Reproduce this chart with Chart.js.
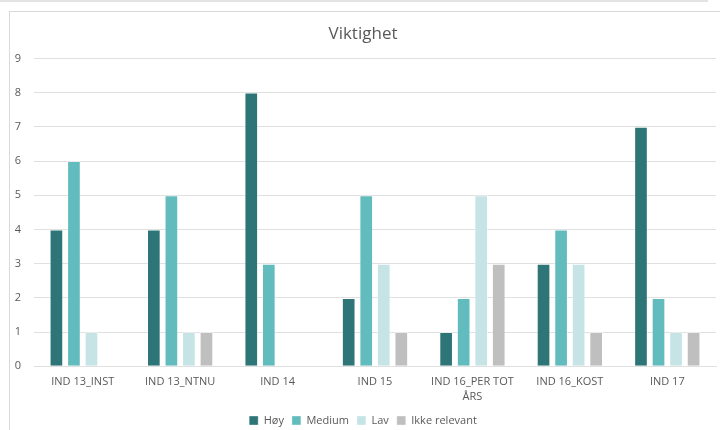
<!DOCTYPE html>
<html>
<head>
<meta charset="utf-8">
<script src="https://cdn.jsdelivr.net/npm/chart.js@4"></script>
<style>
    body { margin: 0; background: #fff; width: 720px; height: 430px; overflow: hidden; position: relative; }
    .topbar { position: absolute; left: 0; top: 0; width: 708px; height: 2px; background: #e3e3e3; }
    .frame { position: absolute; left: 9px; top: 11px; width: 711px; height: 419px; border-left: 1px solid #d9d9d9; border-top: 1px solid #d9d9d9; box-sizing: border-box; }
    .frame canvas { display: block; }
</style>
</head>
<body>
<div class="topbar"></div>
<div class="frame"><canvas id="viktighetChart" width="710" height="418"></canvas></div>
<script>
// Antall indikatorer per viktighetsgrad
const kategorier = ['IND 13_INST', 'IND 13_NTNU', 'IND 14', 'IND 15', ['IND 16_PER TOT', 'ÅRS'], 'IND 16_KOST', 'IND 17'];
const hoy = [4, 4, 8, 2, 1, 3, 7];
const medium = [6, 5, 3, 5, 2, 4, 2];
const lav = [1, 1, 0, 3, 5, 3, 1];
const ikkeRelevant = [0, 1, 0, 1, 3, 1, 1];

const tekstFarge = '#595959';
const gridFarge = '#e0e0e0';

function serie(label, data, farge) {
    return {
        label: label,
        data: data,
        backgroundColor: farge,
        borderColor: 'rgba(255, 255, 255, 0.35)',
        borderWidth: 1,
        barPercentage: 0.78,
        categoryPercentage: 0.72
    };
}

const ctx = document.getElementById('viktighetChart').getContext('2d');
new Chart(ctx, {
    type: 'bar',
    data: {
        labels: kategorier,
        datasets: [
            serie('Høy', hoy, '#2e7577'),
            serie('Medium', medium, '#62bcbd'),
            serie('Lav', lav, '#c6e4e6'),
            serie('Ikke relevant', ikkeRelevant, '#bfbfbf')
        ]
    },
    options: {
        responsive: false,
        animation: false,
        layout: { padding: { left: 0, right: 4, top: 12, bottom: -6 } },
        scales: {
            x: {
                grid: { display: false, drawTicks: false },
                border: { color: gridFarge },
                ticks: {
                    color: tekstFarge,
                    font: { family: 'Open Sans', size: 11, lineHeight: 1.35 },
                    padding: 8,
                    maxRotation: 0,
                    autoSkip: false
                },
                // tettere mellom kategorinavn og forklaring
                afterFit: (scale) => { scale.height -= 5; }
            },
            y: {
                min: 0,
                max: 9,
                grid: { color: gridFarge, drawTicks: false },
                border: { display: false },
                ticks: {
                    stepSize: 1,
                    color: tekstFarge,
                    font: { family: 'Open Sans', size: 11 },
                    padding: 13
                },
                afterFit: (scale) => { scale.width = 24; }
            }
        },
        plugins: {
            title: {
                display: true,
                text: 'Viktighet',
                color: tekstFarge,
                font: { family: 'Open Sans', size: 17, weight: 'normal' },
                padding: { top: 0, bottom: 14 }
            },
            legend: {
                position: 'bottom',
                labels: {
                    color: tekstFarge,
                    font: { family: 'Open Sans', size: 11 },
                    boxWidth: 9,
                    boxHeight: 9,
                    padding: 8
                }
            },
            tooltip: { enabled: false }
        }
    }
});
</script>
</body>
</html>
